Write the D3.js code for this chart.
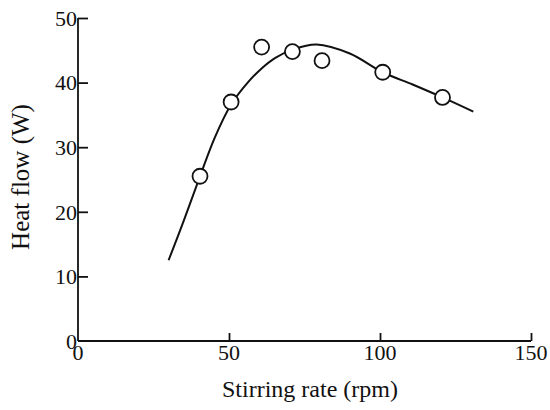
<!DOCTYPE html>
<html>
<head>
<meta charset="utf-8">
<script src="https://cdn.jsdelivr.net/npm/d3@7"></script>
<style>
  body { margin: 0; background: #fff; }
  text { font-family: "Liberation Serif", "DejaVu Serif", serif; fill: #111; }
</style>
</head>
<body>
<svg id="chart" width="550" height="410"></svg>
<script>
// measured points (stirring rate, heat flow)
var rpm = [40.4, 50.7, 60.8, 71, 80.8, 100.9, 120.7];
var heat = [25.5, 37.0, 45.5, 44.8, 43.4, 41.6, 37.7];

// points
var curveRpm = [30, 35, 40.4, 45.4, 50.7, 56.4, 60.8, 65.2, 71, 79, 90, 100.9, 110.8, 120.7, 130.9];
var curveHeat = [12.5, 18.6, 25.5, 31.6, 36.6, 40.1, 42.2, 43.8, 45.1, 45.9, 44.5, 41.6, 39.7, 37.7, 35.5];

var xTicks = [0, 50, 100, 150];
var yTicks = [0, 10, 20, 30, 40, 50];

var svg = d3.select("#chart"),
    margin = {top: 18, left: 78, right: 19, bottom: 69},
    width = 550 - margin.left - margin.right,
    height = 410 - margin.top - margin.bottom,
    g = svg.append("g").attr("transform", "translate(" + margin.left + "," + margin.top + ")");

var x = d3.scaleLinear().domain([0, 150]).range([0, width]);
var y = d3.scaleLinear().domain([0, 50]).range([height, 0]);

// axes: ticks point inward, like the original
var xAxis = g.append("g")
    .attr("transform", "translate(0," + height + ")")
    .call(d3.axisTop(x).tickValues(xTicks.slice(1)).tickSize(8).tickFormat(""));
xAxis.select(".domain").attr("d", "M0,0H" + width);

g.selectAll(".xlab")
    .data(xTicks)
    .enter().append("text")
    .attr("class", "xlab")
    .attr("x", function(d) { return x(d); })
    .attr("y", height + 19)
    .attr("text-anchor", "middle")
    .attr("font-size", 22)
    .text(function(d) { return d; });

var yAxis = g.append("g")
    .call(d3.axisRight(y).tickValues(yTicks.slice(1)).tickSize(10).tickFormat(""));
yAxis.select(".domain").attr("d", "M0," + height + "V0");

g.selectAll(".ylab")
    .data(yTicks)
    .enter().append("text")
    .attr("class", "ylab")
    .attr("x", -1)
    .attr("y", function(d) { return y(d); })
    .attr("dy", "0.35em")
    .attr("text-anchor", "end")
    .attr("font-size", 22)
    .text(function(d) { return d; });

g.selectAll(".domain, .tick line").attr("stroke", "#111").attr("stroke-width", 1.8);

// fitted curve
var line = d3.line()
    .x(function(d) { return x(d[0]); })
    .y(function(d) { return y(d[1]); })
    .curve(d3.curveCatmullRom.alpha(0.5));

g.append("path")
    .datum(d3.zip(curveRpm, curveHeat))
    .attr("fill", "none")
    .attr("stroke", "#111")
    .attr("stroke-width", 2)
    .attr("d", line);

g.selectAll(".pt")
    .data(d3.zip(rpm, heat))
    .enter().append("circle")
    .attr("class", "pt")
    .attr("cx", function(d) { return x(d[0]); })
    .attr("cy", function(d) { return y(d[1]); })
    .attr("r", 7.5)
    .attr("fill", "#fff")
    .attr("stroke", "#111")
    .attr("stroke-width", 1.8);

// axis titles
svg.append("text")
    .attr("x", 310)
    .attr("y", 397)
    .attr("text-anchor", "middle")
    .attr("font-size", 24)
    .text("Stirring rate (rpm)");

svg.append("text")
    .attr("transform", "translate(29,177) rotate(-90)")
    .attr("text-anchor", "middle")
    .attr("font-size", 25)
    .text("Heat flow (W)");
</script>
</body>
</html>
